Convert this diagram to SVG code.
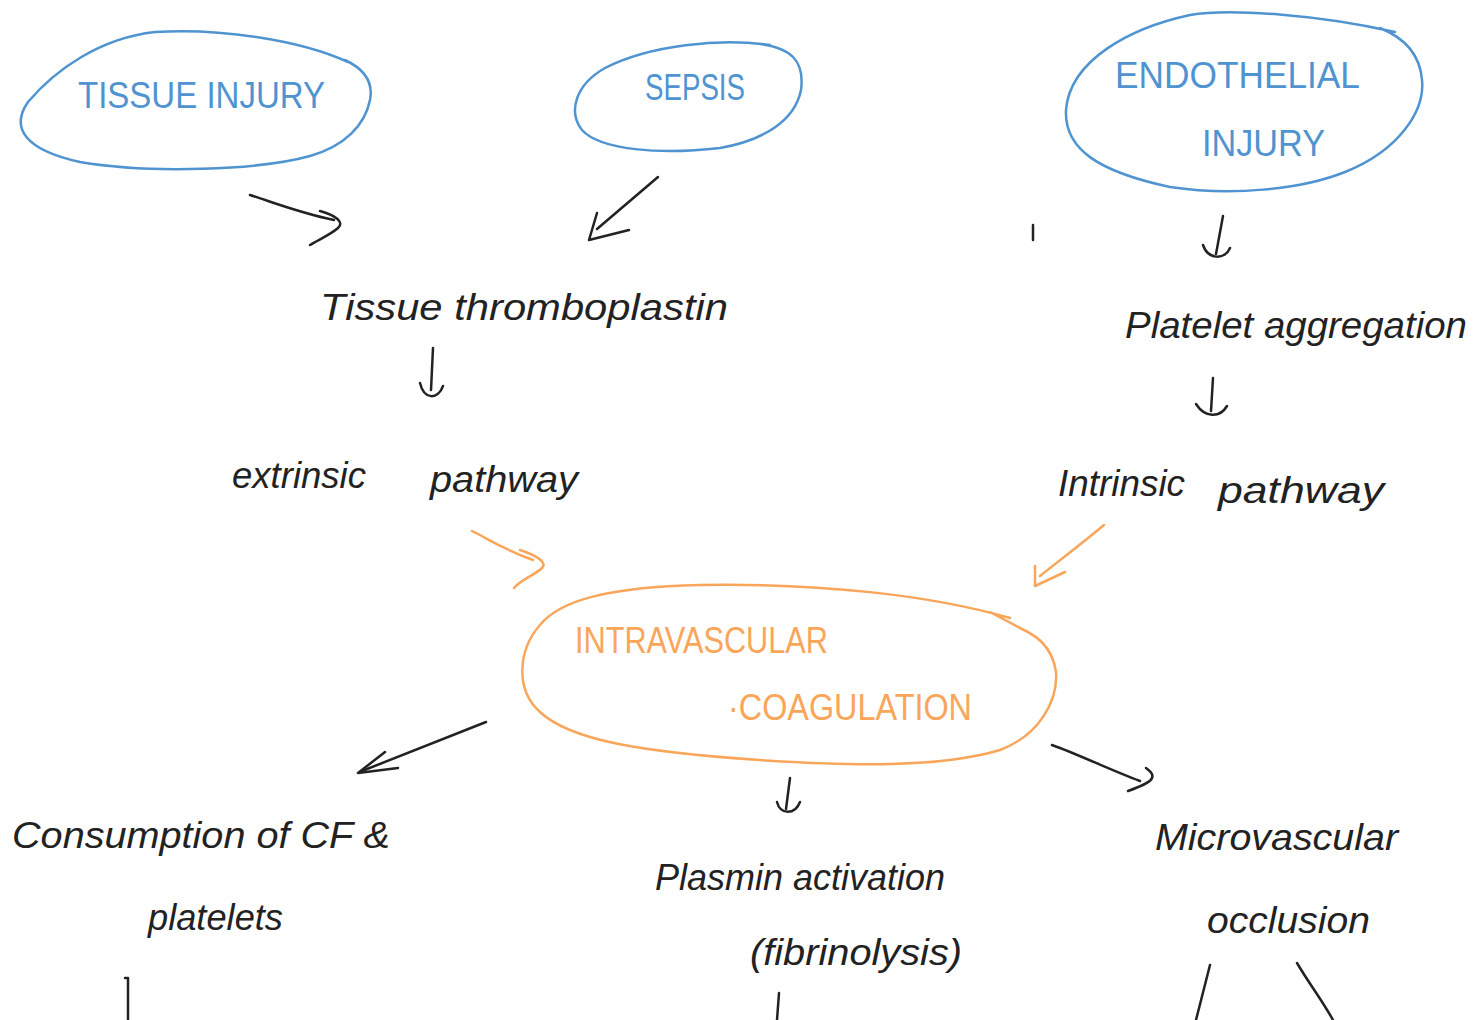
<svg xmlns="http://www.w3.org/2000/svg" width="1475" height="1020" viewBox="0 0 1475 1020">
<style>
.bg{fill:#ffffff}
.blue{fill:none;stroke:#4f94d0;stroke-width:2.5;stroke-linecap:round;stroke-linejoin:round}
.orange{fill:none;stroke:#f9a65a;stroke-width:2.5;stroke-linecap:round;stroke-linejoin:round}
.ink{fill:none;stroke:#222222;stroke-width:2.5;stroke-linecap:round;stroke-linejoin:round}
.tb{fill:#4f94d0;font-family:"Liberation Sans",Arial,sans-serif;font-size:36px}
.to{fill:#f9a65a;font-family:"Liberation Sans",Arial,sans-serif;font-size:36px}
.tk{fill:#222222;font-family:"Liberation Sans",Arial,sans-serif;font-size:36px;font-style:italic}
</style>
<rect class="bg" x="0" y="0" width="1475" height="1020"/>

<g id="node-tissue-injury">
<path class="blue" d="M348,62 C300,40 220,28 155,32 C100,38 55,70 28,102 C10,128 25,150 80,162 C150,174 260,170 310,156 C345,146 365,125 370,100 C374,80 362,68 345,60"/>
<text class="tb" x="78" y="108" textLength="247" lengthAdjust="spacingAndGlyphs">TISSUE INJURY</text>
</g>

<g id="node-sepsis">
<path class="blue" d="M770,45 C720,38 650,45 605,68 C575,85 568,112 582,130 C600,150 660,155 720,148 C765,140 795,120 801,90 C805,60 790,48 760,44"/>
<text class="tb" x="645" y="100" textLength="100" lengthAdjust="spacingAndGlyphs">SEPSIS</text>
</g>

<g id="node-endothelial-injury">
<path class="blue" d="M1395,32 C1320,15 1230,8 1190,15 C1130,28 1070,60 1066,110 C1064,150 1100,172 1170,187 C1230,196 1300,190 1345,172 C1400,150 1425,110 1422,80 C1420,55 1405,38 1380,28"/>
<text class="tb" x="1115" y="88" textLength="245" lengthAdjust="spacingAndGlyphs">ENDOTHELIAL</text>
<text class="tb" x="1202" y="156" textLength="123" lengthAdjust="spacingAndGlyphs">INJURY</text>
</g>

<g id="node-tissue-thromboplastin">
<text class="tk" x="320" y="320" textLength="408" lengthAdjust="spacingAndGlyphs">Tissue thromboplastin</text>
</g>

<g id="node-extrinsic-pathway">
<text class="tk" x="232" y="488" textLength="134" lengthAdjust="spacingAndGlyphs">extrinsic</text>
<text class="tk" x="430" y="492" textLength="148" lengthAdjust="spacingAndGlyphs">pathway</text>
</g>

<g id="node-platelet-aggregation">
<text class="tk" x="1125" y="338" textLength="342" lengthAdjust="spacingAndGlyphs">Platelet aggregation</text>
</g>

<g id="node-intrinsic-pathway">
<text class="tk" x="1058" y="496" textLength="127" lengthAdjust="spacingAndGlyphs">Intrinsic</text>
<text class="tk" x="1218" y="503" textLength="166" lengthAdjust="spacingAndGlyphs">pathway</text>
</g>

<g id="node-intravascular-coagulation">
<path class="orange" d="M1010,618 C930,595 820,583 700,585 C610,587 560,600 540,625 C518,650 515,690 540,712 C570,740 640,752 760,760 C850,766 940,768 1000,750 C1040,735 1058,700 1056,672 C1052,645 1035,635 1020,628 L990,612"/>
<text class="to" x="575" y="653" textLength="253" lengthAdjust="spacingAndGlyphs">INTRAVASCULAR</text>
<text class="to" x="728" y="720" textLength="244" lengthAdjust="spacingAndGlyphs">·COAGULATION</text>
</g>

<g id="node-consumption">
<text class="tk" x="12" y="848" textLength="378" lengthAdjust="spacingAndGlyphs">Consumption of CF &amp;</text>
<text class="tk" x="148" y="930" textLength="135" lengthAdjust="spacingAndGlyphs">platelets</text>
</g>

<g id="node-plasmin-activation">
<text class="tk" x="655" y="890" textLength="290" lengthAdjust="spacingAndGlyphs">Plasmin activation</text>
<text class="tk" x="750" y="965" textLength="212" lengthAdjust="spacingAndGlyphs">(fibrinolysis)</text>
</g>

<g id="node-microvascular-occlusion">
<text class="tk" x="1155" y="850" textLength="243" lengthAdjust="spacingAndGlyphs">Microvascular</text>
<text class="tk" x="1207" y="933" textLength="163" lengthAdjust="spacingAndGlyphs">occlusion</text>
</g>

<g id="connectors">
<path class="ink" d="M250,195 C275,203 300,213 334,220"/>
<path class="ink" d="M320,211 C335,215 345,222 338,228 C330,235 318,240 310,245"/>
<path class="ink" d="M658,177 L597,229"/>
<path class="ink" d="M597,213 L589,240 L629,230"/>
<path class="ink" d="M1033,225 L1033,240"/>
<path class="ink" d="M1223,216 L1216,254"/>
<path class="ink" d="M1203,245 C1208,260 1225,260 1230,248"/>
<path class="ink" d="M433,348 L431,390"/>
<path class="ink" d="M420,383 C424,400 438,400 443,386"/>
<path class="orange" d="M472,531 C490,540 505,550 533,560"/>
<path class="orange" d="M520,550 C535,555 548,562 542,568 C535,575 520,580 514,588"/>
<path class="orange" d="M1104,525 C1080,545 1060,560 1040,576"/>
<path class="orange" d="M1035,566 L1035,586 L1065,572"/>
<path class="ink" d="M1213,378 L1211,411"/>
<path class="ink" d="M1196,404 C1205,418 1220,418 1227,406"/>
<path class="ink" d="M486,722 L362,771"/>
<path class="ink" d="M385,752 L358,773 L398,768"/>
<path class="ink" d="M790,778 L786,809"/>
<path class="ink" d="M777,802 C780,815 795,815 800,802"/>
<path class="ink" d="M1052,745 C1080,755 1110,770 1140,781"/>
<path class="ink" d="M1146,768 C1160,778 1150,783 1128,791"/>
<path class="ink" d="M125,978 L128,978 L128,1020"/>
<path class="ink" d="M779,993 L777,1020"/>
<path class="ink" d="M1210,965 L1196,1020"/>
<path class="ink" d="M1297,963 C1310,985 1322,1000 1333,1020"/>
</g>
</svg>
